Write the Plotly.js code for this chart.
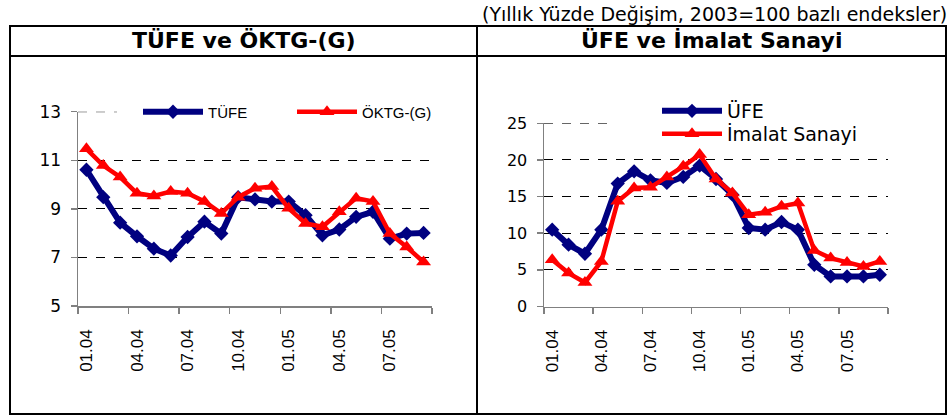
<!DOCTYPE html>
<html>
<head>
<meta charset="utf-8">
<script src="https://cdn.plot.ly/plotly-3.0.1.min.js"></script>
<style>html,body{margin:0;padding:0;background:#fff}#chart{width:950px;height:416px}</style>
</head>
<body>
<div id="chart"></div>
<script>
// ---- data ----
const months = ["01.04","02.04","03.04","04.04","05.04","06.04","07.04","08.04","09.04","10.04","11.04","12.04",
                "01.05","02.05","03.05","04.05","05.05","06.05","07.05","08.05","09.05"];
const tickLabels = ["01.04","04.04","07.04","10.04","01.05","04.05","07.05"];
const tufe  = [10.61,9.48,8.43,7.87,7.36,7.08,7.84,8.47,7.98,9.48,9.39,9.30,9.30,8.74,7.91,8.15,8.67,8.88,7.77,7.98,8.01];
const oktg  = [11.47,10.78,10.31,9.64,9.53,9.71,9.64,9.30,8.81,9.48,9.85,9.92,9.02,8.40,8.26,8.88,9.44,9.30,7.98,7.43,6.81];
const ufe   = [10.48,8.43,7.20,10.48,16.77,18.45,17.22,16.86,17.68,19.23,17.40,15.26,10.71,10.48,11.53,10.48,5.69,4.10,4.10,4.10,4.33];
const imalat= [6.38,4.56,3.28,6.15,14.35,16.17,16.26,17.68,19.13,20.73,17.40,15.49,12.53,12.85,13.67,14.12,7.65,6.61,6.01,5.47,6.15];
const leftYTicks = [5,7,9,11,13];
const rightYTicks = [0,5,10,15,20,25];

// ---- helpers ----
const W = 950, H = 416;
const X = p => p / W;
const Y = p => 1 - p / H;
const idx = months.map((_, i) => i);
const tickIdx = tickLabels.map(l => months.indexOf(l));
const bounds = [];
for (let i = -0.5; i <= months.length - 0.5 + 1e-9; i += 3) bounds.push(i);
if (bounds[bounds.length-1] < months.length - 0.5) bounds.push(months.length - 0.5);

const NAVY = '#000080', RED = '#FF0000', AXC = '#808080';
const FONT = 'Arial, "Liberation Sans", sans-serif';
const DV = '"DejaVu Sans", sans-serif';
const DASH = '9px,9px';

function xAxis(domain, anchor) {
  return {
    domain: domain, anchor: anchor, range: [-0.5, months.length - 0.5],
    showline: true, linecolor: AXC, linewidth: 1.5, mirror: false,
    showgrid: false, zeroline: false,
    tickmode: 'array', tickvals: tickIdx, ticktext: tickLabels,
    ticks: '', tickangle: -90, ticklabelstandoff: 15,
    tickfont: {family: FONT, size: 17, color: '#000'},
    minor: {tickmode: 'array', tickvals: bounds, ticks: 'outside', ticklen: 6, tickwidth: 1.5, tickcolor: AXC, showgrid: false}
  };
}
function yAxis(domain, anchor, range, tv, fs) {
  return {
    domain: domain, anchor: anchor, range: range,
    showline: true, linecolor: AXC, linewidth: 1.5,
    showgrid: true, gridcolor: '#000', gridwidth: 1, griddash: DASH,
    zeroline: false,
    tickmode: 'array', tickvals: tv,
    ticks: 'outside', ticklen: 6, tickwidth: 1.5, tickcolor: AXC,
    ticklabelstandoff: 6,
    tickfont: {family: DV, size: fs, color: '#000'}
  };
}

const traces = [
  {x: idx, y: tufe, name: 'TÜFE', type: 'scatter', mode: 'lines+markers', xaxis: 'x', yaxis: 'y', legend: 'legend',
   line: {color: NAVY, width: 6}, marker: {symbol: 'diamond', size: 11, color: NAVY}},
  {x: idx, y: oktg, name: 'ÖKTG-(G)', type: 'scatter', mode: 'lines+markers', xaxis: 'x', yaxis: 'y', legend: 'legend',
   line: {color: RED, width: 4.5}, marker: {symbol: 'triangle-up', size: 13, color: RED}},
  {x: idx, y: ufe, name: 'ÜFE', type: 'scatter', mode: 'lines+markers', xaxis: 'x2', yaxis: 'y2', legend: 'legend2',
   line: {color: NAVY, width: 6}, marker: {symbol: 'diamond', size: 11, color: NAVY}},
  {x: idx, y: imalat, name: 'İmalat Sanayi', type: 'scatter', mode: 'lines+markers', xaxis: 'x2', yaxis: 'y2', legend: 'legend3',
   line: {color: RED, width: 4.5}, marker: {symbol: 'triangle-up', size: 13, color: RED}}
];

const lw = 2;
const legRight = (yc) => ({orientation: 'v', x: X(657), y: Y(yc), xanchor: 'left', yanchor: 'middle',
  bgcolor: 'rgba(0,0,0,0)', borderwidth: 0, itemwidth: 60, font: {family: DV, size: 19, color: '#000'}});
const layout = {
  width: W, height: H, margin: {l: 0, r: 0, t: 0, b: 0},
  paper_bgcolor: '#fff', plot_bgcolor: 'rgba(0,0,0,0)',
  showlegend: true,
  xaxis: xAxis([X(78), X(432)], 'y'),
  yaxis: yAxis([Y(306), Y(111.7)], 'x', [5, 13], leftYTicks, 17),
  xaxis2: xAxis([X(544), X(888)], 'y2'),
  yaxis2: yAxis([Y(306.5), Y(123.3)], 'x2', [0, 25], rightYTicks, 16),
  legend: {orientation: 'h', x: X(138), y: Y(112), xanchor: 'left', yanchor: 'middle',
           bgcolor: 'rgba(0,0,0,0)', borderwidth: 0, itemwidth: 60, entrywidth: 79,
           font: {family: FONT, size: 15, color: '#000'}},
  legend2: legRight(111),
  legend3: legRight(134),
  shapes: [
    {type: 'line', xref: 'paper', yref: 'y', x0: X(78), x1: X(117), y0: 13, y1: 13, layer: 'below', line: {color: '#000', width: 1, dash: DASH}},
    {type: 'line', xref: 'paper', yref: 'y2', x0: X(544), x1: X(608), y0: 25, y1: 25, layer: 'below', line: {color: '#000', width: 1, dash: DASH}},
    {type: 'rect', xref: 'paper', yref: 'paper', x0: X(10), x1: X(946), y0: Y(414), y1: Y(26), line: {color: '#000', width: lw}},
    {type: 'line', xref: 'paper', yref: 'paper', x0: X(10), x1: X(946), y0: Y(56), y1: Y(56), line: {color: '#000', width: lw}},
    {type: 'line', xref: 'paper', yref: 'paper', x0: X(477), x1: X(477), y0: Y(414), y1: Y(26), line: {color: '#000', width: lw}}
  ],
  annotations: [
    {text: '(Yıllık Yüzde Değişim, 2003=100 bazlı endeksler)', xref: 'paper', yref: 'paper', x: X(949), y: Y(14),
     xanchor: 'right', yanchor: 'middle', showarrow: false, font: {family: DV, size: 19, color: '#000'}},
    {text: '<b>TÜFE ve ÖKTG-(G)</b>', xref: 'paper', yref: 'paper', x: X(243.5), y: Y(41),
     xanchor: 'center', yanchor: 'middle', showarrow: false, font: {family: DV, size: 22, color: '#000'}},
    {text: '<b>ÜFE ve İmalat Sanayi</b>', xref: 'paper', yref: 'paper', x: X(711.5), y: Y(41),
     xanchor: 'center', yanchor: 'middle', showarrow: false, font: {family: DV, size: 22, color: '#000'}}
  ]
};

Plotly.newPlot('chart', traces, layout, {staticPlot: true, displayModeBar: false});
</script>
</body>
</html>
